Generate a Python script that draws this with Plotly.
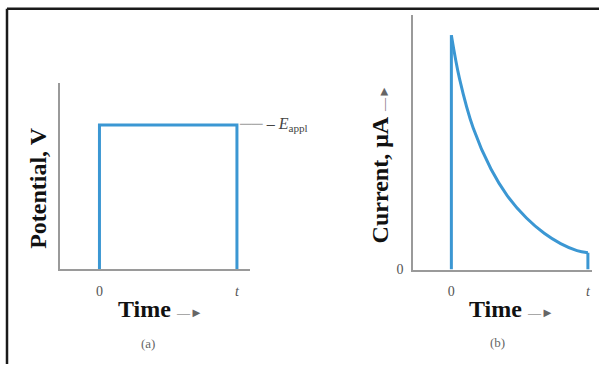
import plotly.graph_objects as go

# ---- data ----
step_time = [0, 0, 1, 1]
step_potential = [0, 1, 1, 0]
E_APPL = 1.0

curve_time = [0, 0.06, 0.16, 0.29, 0.41, 0.55, 0.68, 0.80, 0.92, 1.0]
curve_current = [1.0, 0.814, 0.604, 0.429, 0.315, 0.22, 0.155, 0.111, 0.081, 0.072]

x_tick_vals = [0, 1]
x_tick_text = ["0", "<i>t</i>"]

W, H = 599, 372
BLUE = "#3b97d3"
AXIS = "#9a9a9a"
SERIF = "Liberation Serif, Times New Roman, serif"

fig = go.Figure()

# panel (a)
fig.add_trace(go.Scatter(x=step_time, y=step_potential, mode="lines",
                         line=dict(color=BLUE, width=3), xaxis="x", yaxis="y",
                         showlegend=False, hoverinfo="skip"))
# panel (b)
fig.add_trace(go.Scatter(x=[curve_time[0], curve_time[0]], y=[0, curve_current[0]], mode="lines",
                         line=dict(color=BLUE, width=3), xaxis="x2", yaxis="y2",
                         showlegend=False, hoverinfo="skip"))
fig.add_trace(go.Scatter(x=curve_time, y=curve_current, mode="lines",
                         line=dict(color=BLUE, width=3, shape="spline", smoothing=1.0),
                         xaxis="x2", yaxis="y2", showlegend=False, hoverinfo="skip"))
fig.add_trace(go.Scatter(x=[curve_time[-1], curve_time[-1]], y=[curve_current[-1], 0], mode="lines",
                         line=dict(color=BLUE, width=3), xaxis="x2", yaxis="y2",
                         showlegend=False, hoverinfo="skip"))

def px_x(p):
    return p / W

def px_y(p):
    return 1 - p / H

tickfont = dict(family=SERIF, size=14, color="#555")
common_x = dict(showline=True, linecolor=AXIS, linewidth=1.5, showgrid=False, zeroline=False,
                tickvals=x_tick_vals, ticktext=x_tick_text, tickfont=tickfont,
                ticks="outside", ticklen=8, tickcolor="rgba(0,0,0,0)", fixedrange=True)
common_y = dict(showline=True, linecolor=AXIS, linewidth=1.5, showgrid=False, zeroline=False,
                tickfont=tickfont, fixedrange=True)

fig.update_layout(
    width=W, height=H,
    margin=dict(l=0, r=0, t=0, b=0),
    paper_bgcolor="white", plot_bgcolor="white",
    xaxis=dict(domain=[px_x(60), px_x(250)], range=[-0.287, 1.095], anchor="y", **common_x),
    yaxis=dict(domain=[px_y(275), px_y(85)], range=[0, 1.29], anchor="x",
               showticklabels=False, ticks="", **common_y),
    xaxis2=dict(domain=[px_x(413), px_x(592)], range=[-0.281, 1.03], anchor="y2", **common_x),
    yaxis2=dict(domain=[px_y(275.5), px_y(15)], range=[0, 1.088], anchor="x2",
                tickvals=[0], ticktext=["0"], ticks="outside", ticklen=5,
                tickcolor="rgba(0,0,0,0)", **common_y),
)

title_font = dict(family=SERIF, size=24, color="#111")
arrow = "<span style='font-size:13px;color:#666;font-weight:normal'>&#8212;&#9658;</span>"

annotations = [
    dict(text="<b>Potential, V</b>", x=px_x(38), y=px_y(192), textangle=-90, font=title_font),
    dict(text="<b>Current, \u03bcA</b> " + arrow,
         x=px_x(380), y=px_y(168), textangle=-90, font=title_font),
    dict(text="<b>Time</b> " + arrow, x=px_x(160), y=px_y(316), font=title_font),
    dict(text="<b>Time</b> " + arrow, x=px_x(511), y=px_y(316), font=title_font),
    dict(text="(a)", x=px_x(148), y=px_y(351), font=dict(family=SERIF, size=13, color="#666")),
    dict(text="(b)", x=px_x(497), y=px_y(350), font=dict(family=SERIF, size=13, color="#666")),
]
for a in annotations:
    a.update(xref="paper", yref="paper", showarrow=False, xanchor="center", yanchor="middle")

fig.add_annotation(text="<span style='color:#aaa'>\u2500\u2500</span> \u2013 <i>E</i><sub>appl</sub>",
                   x=step_time[-1], y=E_APPL, xref="x", yref="y", xanchor="left", yanchor="middle",
                   showarrow=False, font=dict(family=SERIF, size=16, color="#444"))
for a in annotations:
    fig.add_annotation(**a)

# outer frame (top and left rules)
fig.add_shape(type="line", xref="paper", yref="paper", x0=px_x(7), x1=1, y0=px_y(9), y1=px_y(9),
              line=dict(color="#1a1a1a", width=2.5))
fig.add_shape(type="line", xref="paper", yref="paper", x0=px_x(7), x1=px_x(7), y0=px_y(9), y1=0,
              line=dict(color="#1a1a1a", width=2.5))

fig.write_html("out.html")
